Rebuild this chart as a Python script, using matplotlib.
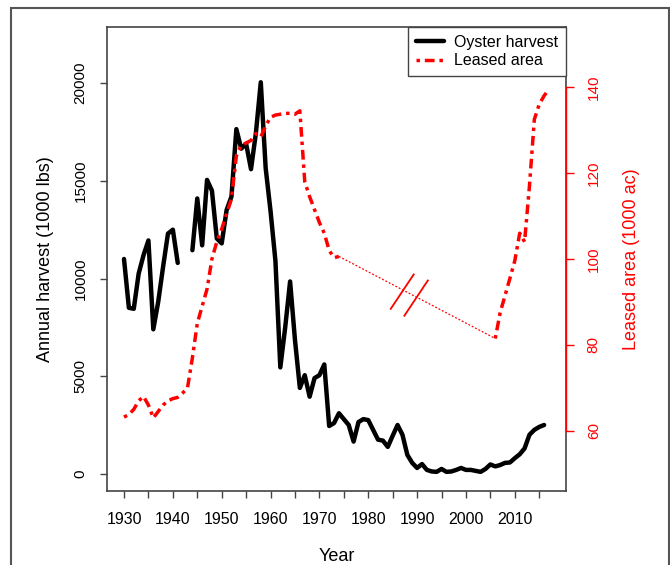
import numpy as np
import matplotlib.pyplot as plt
from matplotlib.patches import Rectangle

plt.rcParams['font.family'] = ['Liberation Sans', 'DejaVu Sans']

nan = np.nan

# oyster harvest (1000 lbs), 1930-2016, no data 1942-43
harvest_years = list(range(1930, 2017))
harvest = [11000, 8500, 8450, 10250, 11200, 11950, 7400, 8800, 10600, 12300,
           12500, 10800, nan, nan, 11450, 14100, 11700, 15050, 14500, 12050,
           11800, 13500, 14200, 17650, 16650, 16900, 15600, 17450, 20050, 15650,
           13450, 10900, 5450, 7500, 9850, 6850, 4400, 5050, 3950, 4900,
           5050, 5600, 2450, 2600, 3100, 2800, 2500, 1650, 2650, 2800,
           2750, 2250, 1750, 1700, 1380, 1950, 2500, 2000, 970, 560,
           300, 500, 200, 120, 100, 250, 100, 120, 200, 300,
           200, 200, 150, 100, 250, 480, 380, 450, 560, 580,
           800, 1000, 1300, 2000, 2250, 2400, 2500]

# leased area (1000 ac), 1930-2017, no data 1975-2005
lease_years = list(range(1930, 2018))
lease = [63.2, 63.8, 65, 67, 68, 66, 63, 64.5, 66, 67,
         67.5, 67.8, 68.8, 70, 77, 85, 89, 93, 100, 104,
         107, 110.5, 114, 124, 126.5, 127, 127.6, 129.2, 128.4, 131,
         133, 133.5, 133.7, 133.9, 133.9, 133.7, 134.5, 118, 114.5, 111.5,
         108.5, 106, 102, 100.3, 100.6] + [nan] * 31 + \
        [81.5, 87.5, 91.5, 95.5, 99.6, 106, 104, 117, 132.5, 136, 138, 139.5]

# axis break marks on the gap line
break_x = [[1984.6, 1989.3], [1987.4, 1992.2]]
break_y = [[88.4, 96.4], [86.8, 95.0]]

fig = plt.figure(figsize=(6.7, 5.65), dpi=100)
ax = fig.add_axes([107/670, 74/565, 459/670, 464/565])

ax.plot(harvest_years, harvest, color='black', lw=3.2, label='Oyster harvest',
        solid_capstyle='round', solid_joinstyle='round')
ax.set_xlim(1926.52, 2020.48)
ax.set_ylim(-880, 22880)
ax.set_yticks([0, 5000, 10000, 15000, 20000])
ax.set_xticks(range(1930, 2016, 5))
ax.set_xticklabels([str(y) if y % 10 == 0 else '' for y in range(1930, 2016, 5)])
ax.tick_params(axis='x', length=5, width=1, color='#444444', pad=10, labelsize=11.5)
ax.tick_params(axis='y', length=5, width=1, color='#444444', pad=9, labelsize=11,
               labelrotation=90)
for t in ax.get_yticklabels():
    t.set_va('center')
for s in ax.spines.values():
    s.set_color('#444444')
    s.set_linewidth(1.2)
ax.set_xlabel('Year', fontsize=13)
ax.set_ylabel('Annual harvest (1000 lbs)', fontsize=13)
ax.xaxis.set_label_coords(0.5, -0.123)
ax.yaxis.set_label_coords(-0.115, 0.5)

ax2 = ax.twinx()
ax2.set_ylim(46, 154)
ly = np.array(lease_years, dtype=float)
lv = np.array(lease, dtype=float)
ax2.plot(ly, lv, color='red', lw=2.5, dashes=(1, 1.4, 2.8, 1.4), zorder=3)
# thin dotted link across the missing years
ok = ~np.isnan(lv)
gap = np.where(np.diff(ok.astype(int)) != 0)[0]
i0, i1 = gap[0], gap[1] + 1
ax2.plot([ly[i0], ly[i1]], [lv[i0], lv[i1]], color='red', lw=0.9, ls=(0, (1.5, 1.5)))
for bx, by in zip(break_x, break_y):
    ax2.plot(bx, by, color='red', lw=1.3)
ax2.set_yticks([60, 80, 100, 120, 140])
ax2.tick_params(axis='y', length=6, width=1, colors='red', pad=9, labelsize=11,
                labelrotation=90)
for t in ax2.get_yticklabels():
    t.set_va('center')
for k in ['left', 'top', 'bottom']:
    ax2.spines[k].set_visible(False)
ax2.spines['right'].set_color('red')
ax2.spines['right'].set_bounds(60, 140)
ax2.spines['right'].set_linewidth(1.0)
ax2.set_ylabel('Leased area (1000 ac)', fontsize=13, color='red')
ax2.yaxis.set_label_coords(1.124, 0.5)

# legend
h1 = ax.lines[0]
h2, = ax2.plot([], [], color='red', lw=2.5, dashes=(1, 1.4, 2.8, 1.4))
leg = ax2.legend([h1, h2], ['Oyster harvest', 'Leased area'], loc='upper right',
                 bbox_to_anchor=(1.0, 1.0), borderaxespad=0, fancybox=False,
                 edgecolor='#444444', framealpha=1, fontsize=11.5,
                 handlelength=1.8, handletextpad=0.6, labelspacing=0.2,
                 borderpad=0.5)
leg.get_frame().set_linewidth(1.0)

# outer frame
fig.patches.append(Rectangle((11/670, -0.05), 658/670, 1.05 - 8/565,
                             transform=fig.transFigure, fill=False,
                             edgecolor='#555555', lw=1.5))

plt.savefig('out.png', dpi=100)
